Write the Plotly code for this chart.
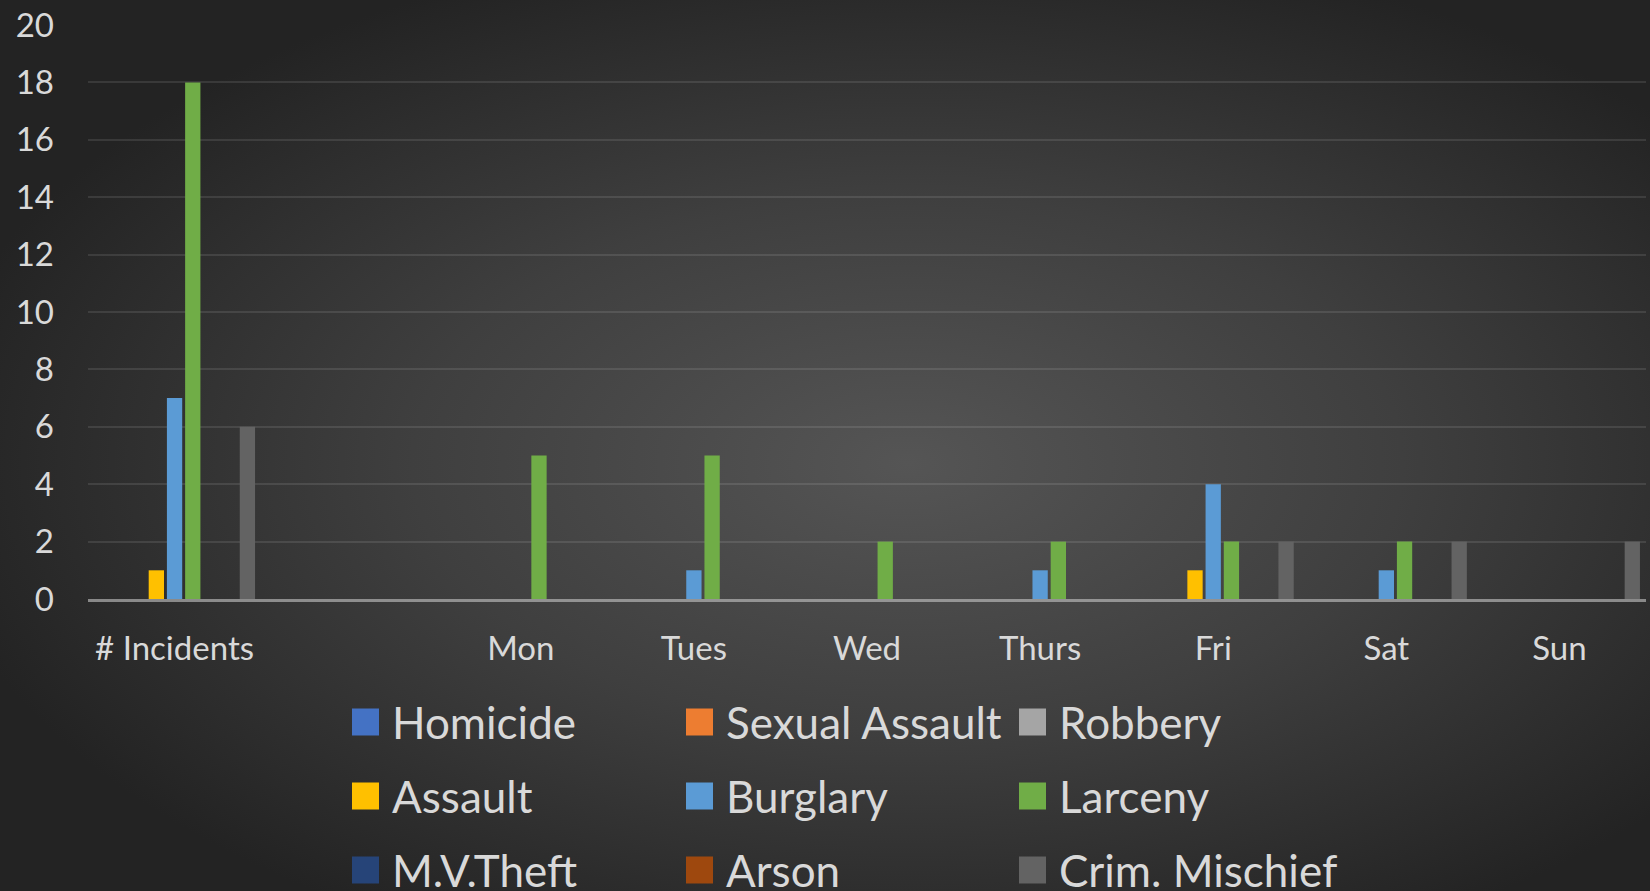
import base64
import plotly.graph_objects as go

categories = ["# Incidents", " ", "Mon", "Tues", "Wed", "Thurs", "Fri", "Sat", "Sun"]
series_names = ["Homicide", "Sexual Assault", "Robbery",
                "Assault", "Burglary", "Larceny",
                "M.V.Theft", "Arson", "Crim. Mischief"]
homicide       = [0, 0, 0, 0, 0, 0, 0, 0, 0]
sexual_assault = [0, 0, 0, 0, 0, 0, 0, 0, 0]
robbery        = [0, 0, 0, 0, 0, 0, 0, 0, 0]
assault        = [1, 0, 0, 0, 0, 0, 1, 0, 0]
burglary       = [7, 0, 0, 1, 0, 1, 4, 1, 0]
larceny        = [18, 0, 5, 5, 2, 2, 2, 2, 0]
mv_theft       = [0, 0, 0, 0, 0, 0, 0, 0, 0]
arson          = [0, 0, 0, 0, 0, 0, 0, 0, 0]
crim_mischief  = [6, 0, 0, 0, 0, 0, 2, 2, 2]
series_values = [homicide, sexual_assault, robbery, assault, burglary,
                 larceny, mv_theft, arson, crim_mischief]
colors = ["#4472C4", "#ED7D31", "#A5A5A5", "#FFC000", "#5B9BD5",
          "#70AD47", "#264478", "#9E480E", "#636363"]

W, H = 1650, 891
ML, MR, MT, MB = 88, 4, 25, 292
PW, PH = W - ML - MR, H - MT - MB

fig = go.Figure()
for name, vals, col in zip(series_names, series_values, colors):
    fig.add_trace(go.Bar(name=name, x=categories, y=vals,
                         marker=dict(color=col, line=dict(width=0)),
                         showlegend=False))

# background radial gradient
svg = (f"<svg xmlns='http://www.w3.org/2000/svg' width='{W}' height='{H}'>"
       "<defs><radialGradient id='g' cx='0.55' cy='0.52' r='0.6'>"
       "<stop offset='0' stop-color='#555555'/>"
       "<stop offset='0.5' stop-color='#3f3f3f'/>"
       "<stop offset='1' stop-color='#232323'/>"
       "</radialGradient></defs>"
       f"<rect width='{W}' height='{H}' fill='url(#g)'/></svg>")
src = "data:image/svg+xml;base64," + base64.b64encode(svg.encode()).decode()

def px_x(px):
    return (px - ML) / PW

def px_y(py):
    return (H - MB - py) / PH

fig.add_layout_image(dict(source=src, xref="paper", yref="paper",
                          x=px_x(0), y=px_y(0), sizex=W / PW, sizey=H / PH,
                          xanchor="left", yanchor="top", sizing="stretch",
                          layer="below"))

# custom legend
col_x = [352, 686, 1019]
row_y = [722, 796, 870]
for i, (name, col) in enumerate(zip(series_names, colors)):
    r, c = divmod(i, 3)
    x0, yc = col_x[c], row_y[r]
    fig.add_shape(type="rect", xref="paper", yref="paper",
                  x0=px_x(x0), x1=px_x(x0 + 27), y0=px_y(yc + 13.5), y1=px_y(yc - 13.5),
                  fillcolor=col, line=dict(width=0))
    fig.add_annotation(text=name, xref="paper", yref="paper",
                       x=px_x(x0 + 38), y=px_y(yc), xanchor="left", yanchor="middle",
                       showarrow=False,
                       font=dict(family="Lato", size=44, color="#d9d9d9"))

fig.update_layout(
    width=W, height=H,
    margin=dict(l=ML, r=MR, t=MT, b=MB),
    paper_bgcolor="#2e2e2e",
    plot_bgcolor="rgba(0,0,0,0)",
    barmode="group", bargap=0.053, bargroupgap=0.16,
    font=dict(family="Lato", color="#d9d9d9"),
)
fig.update_xaxes(type="category", showgrid=False, showline=True,
                 linecolor="rgba(200,200,200,0.6)", linewidth=2.5,
                 ticks="", ticklabelstandoff=19,
                 tickfont=dict(family="Lato", size=33, color="#d9d9d9"))
fig.update_yaxes(range=[0, 20], dtick=2, showgrid=True,
                 gridcolor="rgba(255,255,255,0.10)", gridwidth=1.5,
                 zeroline=False, ticks="", ticklabelstandoff=33,
                 tickfont=dict(family="Lato", size=33, color="#d9d9d9"))

fig.write_html("out.html", config={"displayModeBar": False},
               post_script="document.body.style.margin='0';"
                           "document.body.style.overflow='hidden';")
